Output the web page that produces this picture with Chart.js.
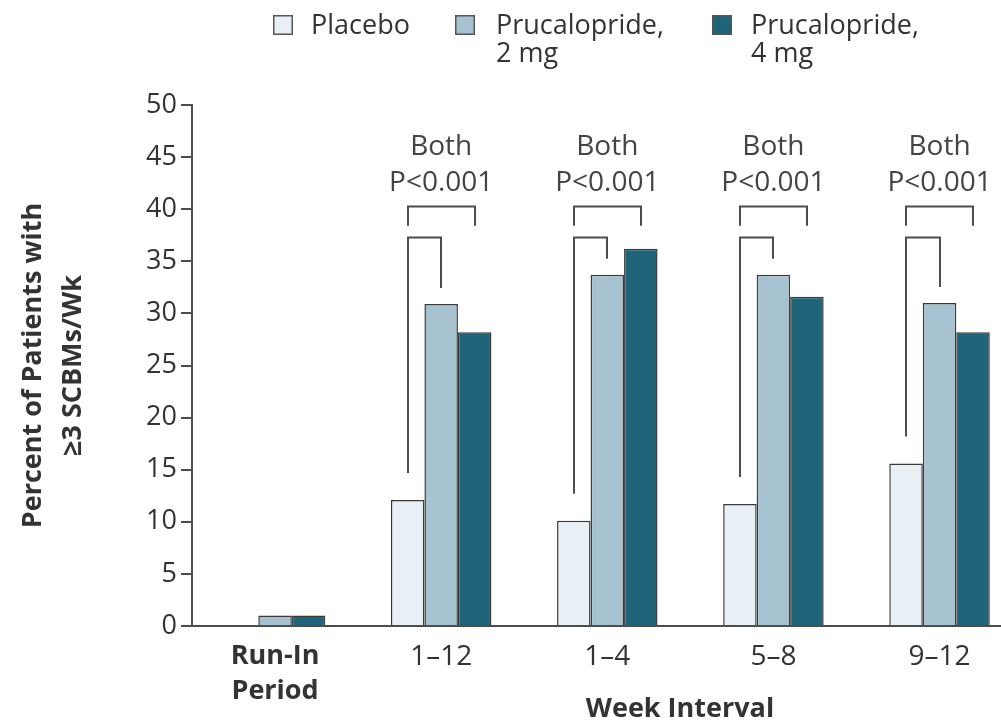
<!DOCTYPE html>
<html>
<head>
<meta charset="utf-8">
<script src="https://cdn.jsdelivr.net/npm/chart.js@4/dist/chart.umd.min.js"></script>
<style>
  html, body { margin: 0; padding: 0; background: #ffffff; overflow: hidden; }
  canvas { display: block; }
</style>
</head>
<body>
<canvas id="chart" width="1001" height="721"></canvas>
<script>
// Week intervals on the x axis (first one is the run-in period)
const categories = [['Run-In', 'Period'], '1–12', '1–4', '5–8', '9–12'];

// Percent of patients with ≥3 SCBMs per week
const placebo = [0, 12.1, 10.1, 11.7, 15.6];
const prucalopride2mg = [1.0, 30.9, 33.7, 33.7, 31.0];
const prucalopride4mg = [1.0, 28.2, 36.2, 31.6, 28.2];

const seriesLabels = ['Placebo', 'Prucalopride, 2 mg', 'Prucalopride, 4 mg'];
const legendLines = [['Placebo'], ['Prucalopride,', '2 mg'], ['Prucalopride,', '4 mg']];

// Significance notes above each treatment interval
const significanceText = ['Both', 'P<0.001'];
const significanceGroups = [1, 2, 3, 4];

const yTitle = ['Percent of Patients with', '≥3 SCBMs/Wk'];
const xTitle = 'Week Interval';

const FONT = '"Open Sans", "DejaVu Sans", sans-serif';
const TEXT = '#333333';
const LINE = '#4d4d4d';
const colors = ['#e9f0f5', '#a7c3d1', '#1f6479'];

const seriesValues = [placebo, prucalopride2mg, prucalopride4mg];

const asPoints = (vals) => vals.map((v, i) => ({ x: i, y: v }));

// Brackets, significance text, legend and x-axis title
const decorations = {
  id: 'decorations',
  afterDatasetsDraw(chart) {
    const ctx = chart.ctx;
    const y = chart.scales.y;
    const bar = (ds, g) => chart.getDatasetMeta(ds).data[g];
    const upperY = Math.round(y.getPixelForValue(40.3)) + 0.5;
    const upperLegEnd = y.getPixelForValue(38.4);
    const lowerY = Math.round(y.getPixelForValue(37.3)) + 0.5;

    ctx.save();
    ctx.strokeStyle = LINE;
    ctx.lineWidth = 2;
    ctx.lineCap = 'butt';
    ctx.lineJoin = 'miter';
    significanceGroups.forEach((g) => {
      const p = bar(0, g), a = bar(1, g), b = bar(2, g);
      const xp = Math.round(p.x), xa = Math.round(a.x), xb = Math.round(b.x);
      // placebo vs 4 mg
      ctx.beginPath();
      ctx.moveTo(xp, upperLegEnd);
      ctx.lineTo(xp, upperY);
      ctx.lineTo(xb, upperY);
      ctx.lineTo(xb, upperLegEnd);
      ctx.stroke();
      // placebo vs 2 mg
      ctx.beginPath();
      ctx.moveTo(xp, p.y - 27);
      ctx.lineTo(xp, lowerY);
      ctx.lineTo(xa, lowerY);
      ctx.lineTo(xa, a.y - 16);
      ctx.stroke();

      ctx.fillStyle = '#444444';
      ctx.font = '28px ' + FONT;
      ctx.textAlign = 'center';
      ctx.textBaseline = 'alphabetic';
      ctx.fillText(significanceText[0], a.x, chart.chartArea.top + 50);
      ctx.fillText(significanceText[1], a.x, chart.chartArea.top + 86);
    });
    ctx.restore();
  },
  afterDraw(chart) {
    const ctx = chart.ctx;
    ctx.save();
    // legend
    const boxX = [273, 455, 712];
    const textX = [311, 496, 751];
    ctx.font = '27px ' + FONT;
    ctx.textAlign = 'left';
    ctx.textBaseline = 'alphabetic';
    legendLines.forEach((lines, i) => {
      ctx.fillStyle = colors[i];
      ctx.fillRect(boxX[i], 15, 20, 20);
      ctx.strokeStyle = '#555555';
      ctx.lineWidth = 1.5;
      ctx.strokeRect(boxX[i] + 0.75, 15.75, 18.5, 18.5);
      ctx.fillStyle = TEXT;
      lines.forEach((t, k) => ctx.fillText(t, textX[i], 34 + k * 28));
    });
    // x-axis title
    ctx.font = 'bold 27px ' + FONT;
    ctx.textAlign = 'center';
    ctx.fillText(xTitle, 680, 717);
    ctx.restore();
  }
};

new Chart(document.getElementById('chart'), {
  type: 'bar',
  data: {
    datasets: seriesValues.map((vals, i) => ({
      label: seriesLabels[i],
      data: asPoints(vals),
      backgroundColor: colors[i],
      borderColor: '#3a3a3a',
      borderWidth: 1.5,
      borderSkipped: 'start'
    }))
  },
  options: {
    responsive: false,
    animation: false,
    devicePixelRatio: 1,
    layout: { padding: { top: 105, left: 0, right: 0, bottom: 0 } },
    plugins: { legend: { display: false }, tooltip: { enabled: false } },
    datasets: { bar: { barPercentage: 1, categoryPercentage: 0.605 } },
    scales: {
      x: {
        type: 'linear',
        min: -0.5,
        max: 4.37,
        offset: false,
        grid: { display: false },
        border: { display: true, color: LINE, width: 2 },
        afterBuildTicks: (s) => { s.ticks = categories.map((c, i) => ({ value: i })); },
        afterFit: (s) => { s.height = 95; },
        ticks: {
          autoSkip: false,
          maxRotation: 0,
          padding: 5,
          color: TEXT,
          callback: (v) => categories[v],
          font: (c) => (c.tick && c.tick.value === 0)
            ? { family: FONT, size: 27, weight: 'bold', lineHeight: 1.3 }
            : { family: FONT, size: 28, weight: 'normal', lineHeight: 1.3 }
        }
      },
      y: {
        min: 0,
        max: 50,
        afterFit: (s) => { s.width = 192; },
        ticks: { stepSize: 5, padding: 4, color: TEXT, font: { family: FONT, size: 27 } },
        grid: { drawOnChartArea: false, drawTicks: true, tickLength: 11, color: LINE, lineWidth: 2 },
        border: { display: true, color: LINE, width: 2 },
        title: {
          display: true,
          text: yTitle,
          color: TEXT,
          font: { family: FONT, size: 27, weight: 'bold', lineHeight: 1.48 },
          padding: { top: 13, bottom: 0 }
        }
      }
    }
  },
  plugins: [decorations]
});
</script>
</body>
</html>
